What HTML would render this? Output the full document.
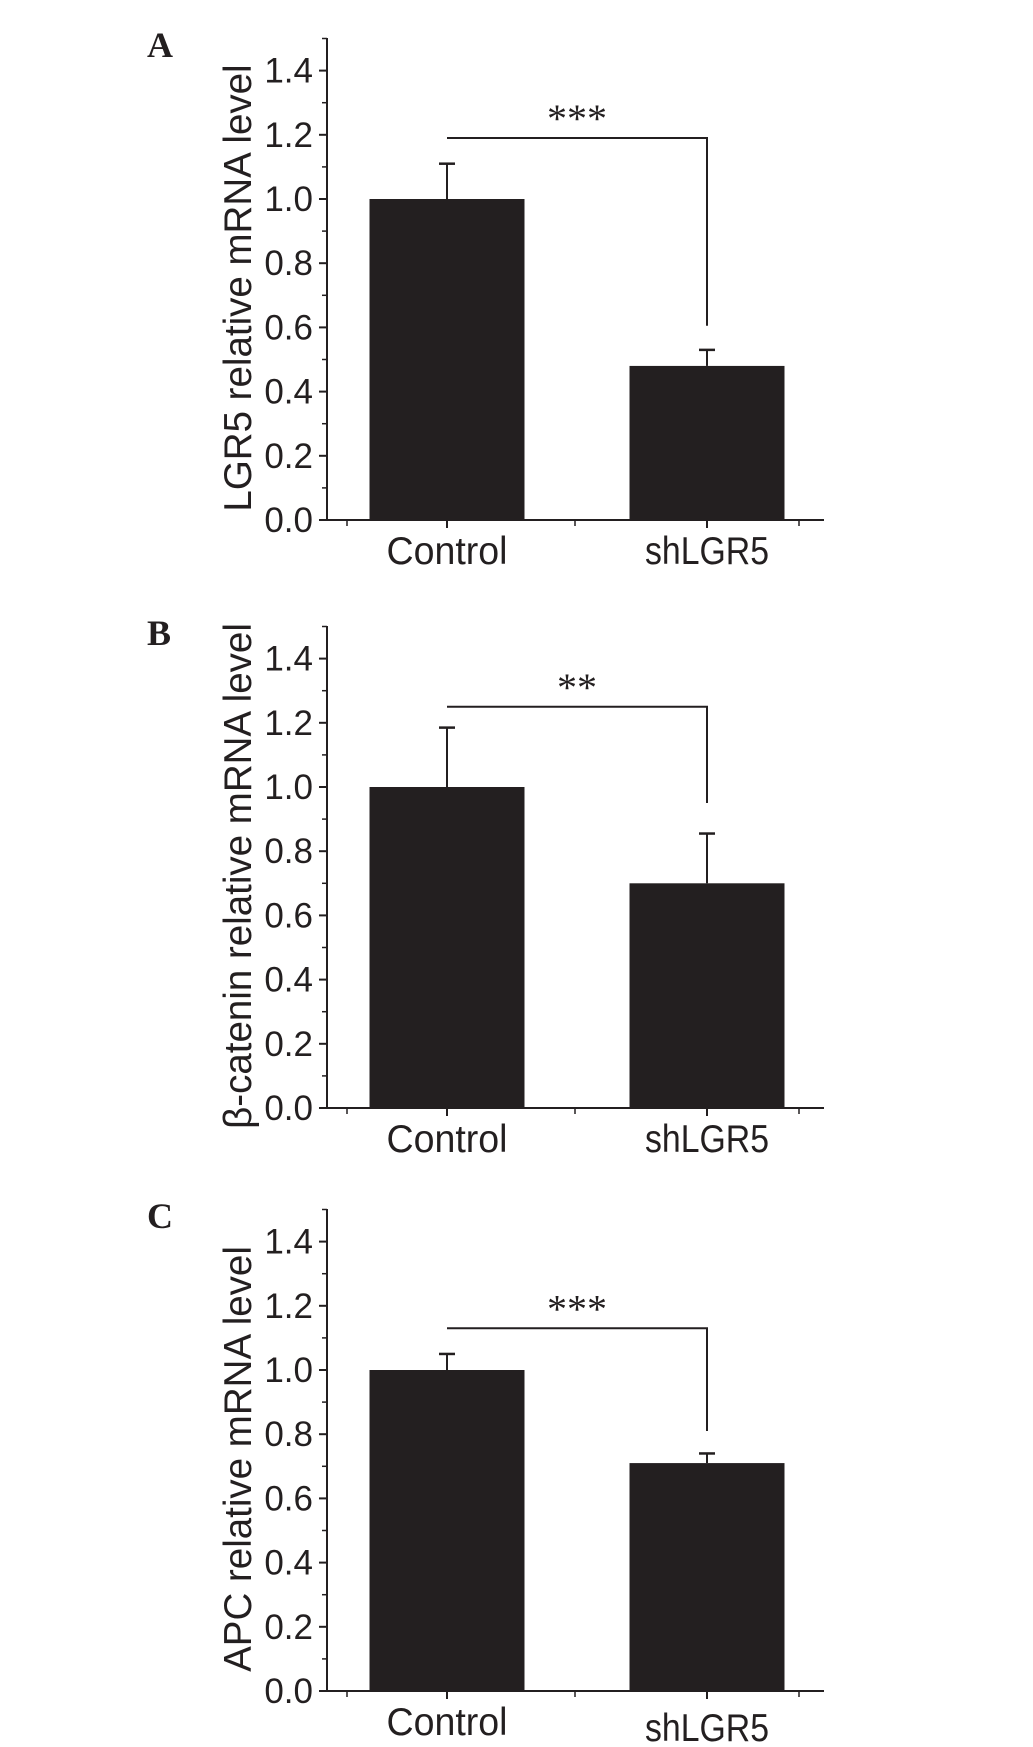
<!DOCTYPE html>
<html><head><meta charset="utf-8"><style>
html,body{margin:0;padding:0;background:#fff;}
svg text{font-family:"Liberation Sans Narrow","Liberation Sans",sans-serif;fill:#231f20;}
</style></head><body>
<svg id="fig" width="1033" height="1742" viewBox="0 0 1033 1742" xmlns="http://www.w3.org/2000/svg"></svg>
<script>
const panelLetters = ["A","B","C"];
const yTitles = ["LGR5 relative mRNA level","β-catenin relative mRNA level","APC relative mRNA level"];
const categories = ["Control","shLGR5"];
const meansA = [1.0, 0.48];
const errA = [1.11, 0.53];
const meansB = [1.0, 0.70];
const errB = [1.185, 0.855];
const meansC = [1.0, 0.71];
const errC = [1.05, 0.74];
const bracketY = [1.19, 1.25, 1.13];
const bracketEnd = [0.605, 0.95, 0.81];
const stars = ["***","**","***"];
const yTicks = [0.0,0.2,0.4,0.6,0.8,1.0,1.2,1.4];
const yTickLabels = ["0.0","0.2","0.4","0.6","0.8","1.0","1.2","1.4"];

const svg = document.getElementById('fig');
const NS = "http://www.w3.org/2000/svg";
function mk(tag, attrs, parent){const e=document.createElementNS(NS,tag);for(const k in attrs)e.setAttribute(k,attrs[k]);(parent||svg).appendChild(e);return e;}

const means=[meansA,meansB,meansC], errs=[errA,errB,errC];
const zeros=[520,1108,1691];
const unit=321;
const axisX=327, axisEnd=824;
const centers=[447,707];
const barW=155;
function xPos(i){return centers[i];}

for(let p=0;p<3;p++){
  const z=zeros[p];
  const y=v=>z-v*unit;
  const g=mk('g',{});
  
  
  const L=mk('text',{x:147,y:z-463,'font-size':36,'font-weight':'bold',style:'font-family:"Liberation Serif",serif'},g);
  L.textContent=panelLetters[p];
  
  
  const ya=mk('line',{x1:axisX,y1:z-482,x2:axisX,y2:z,stroke:'#231f20','stroke-width':2},g);
  
  
  const xa=mk('line',{x1:axisX-8,y1:z,x2:axisEnd,y2:z,stroke:'#231f20','stroke-width':2},g);
  
  
  yTicks.forEach((t,i)=>{
    mk('line',{x1:axisX-8,y1:y(t),x2:axisX,y2:y(t),stroke:'#231f20','stroke-width':2},g);
    if(i<yTicks.length-1) mk('line',{x1:axisX-5,y1:y(t+0.1),x2:axisX,y2:y(t+0.1),stroke:'#231f20','stroke-width':1.5},g);
    const tl=mk('text',{x:axisX-14,y:y(t)+12,'font-size':35,'text-anchor':'end'},g);
    tl.textContent=yTickLabels[i];
    
    
  });
  mk('line',{x1:axisX-5,y1:y(1.5),x2:axisX,y2:y(1.5),stroke:'#231f20','stroke-width':1.5},g);
  [347,575,799].forEach(x=>mk('line',{x1:x,y1:z,x2:x,y2:z+6,stroke:'#231f20','stroke-width':1.5},g));
  const yt=mk('text',{x:0,y:0,'font-size':38.5,'text-anchor':'middle',transform:`translate(251,${z-232}) rotate(-90)`,style:'font-family:"Liberation Sans",sans-serif'},g);
  yt.textContent=yTitles[p];
  
  
  categories.forEach((c,i)=>{
    const cx=xPos(i);
    const b=mk('rect',{x:cx-barW/2,y:y(means[p][i]),width:barW,height:means[p][i]*unit,fill:'#231f20'},g);
    
    
    mk('line',{x1:cx,y1:y(means[p][i]),x2:cx,y2:y(errs[p][i]),stroke:'#231f20','stroke-width':2},g);
    const cap=mk('line',{x1:cx-8,y1:y(errs[p][i]),x2:cx+8,y2:y(errs[p][i]),stroke:'#231f20','stroke-width':2.5},g);
    
    
    mk('line',{x1:cx,y1:z,x2:cx,y2:z+8,stroke:'#231f20','stroke-width':2},g);
    const xl=mk('text',{x:cx,y:z+(p==2&&i==1?50:44),'font-size':39,'text-anchor':'middle',textLength:i==0?121:124,lengthAdjust:'spacingAndGlyphs'},g);
    xl.textContent=c;
    
    
  });
  const br=mk('path',{d:`M${xPos(0)},${y(bracketY[p])} H${xPos(1)} V${y(bracketEnd[p])}`,fill:'none',stroke:'#231f20','stroke-width':2},g);
  
  
  const st=mk('text',{x:(xPos(0)+xPos(1))/2,y:y(bracketY[p])-6,'font-size':40,'text-anchor':'middle',style:'font-family:"Liberation Serif",serif'},g);
  st.textContent=stars[p];
  
  
}
</script>
</body></html>
